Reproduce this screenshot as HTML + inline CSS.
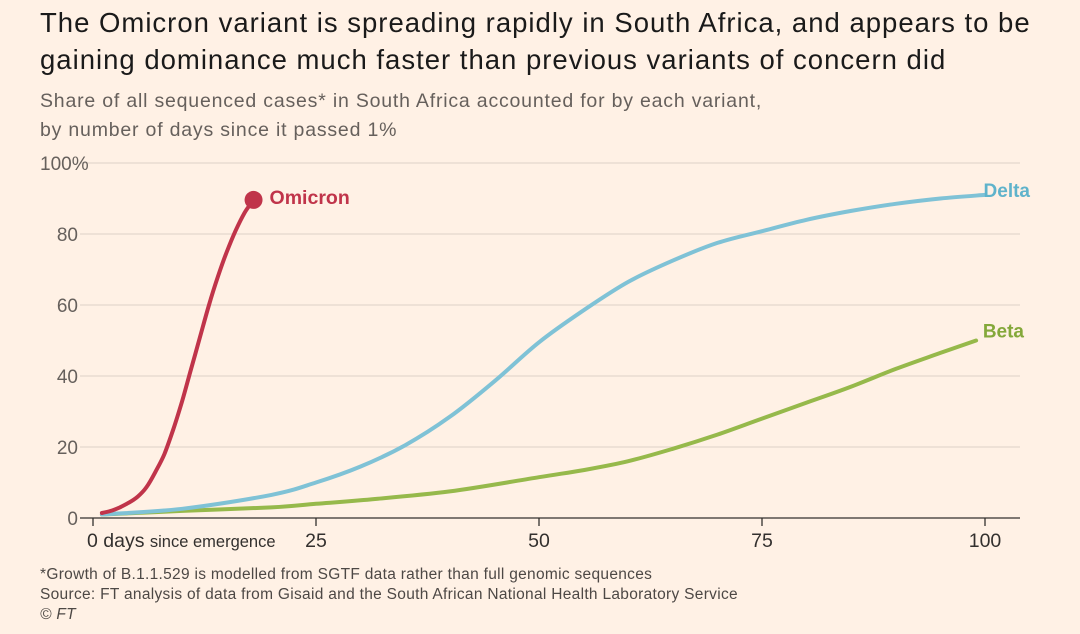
<!DOCTYPE html>
<html><head><meta charset="utf-8"><style>
body{margin:0;background:#fff1e5;font-family:"Liberation Sans",sans-serif;}
#wrap{position:relative;width:1080px;height:634px;overflow:hidden;}
h1{position:absolute;left:40px;top:4px;margin:0;font-weight:normal;font-size:27.5px;line-height:37px;color:#1a1a1a;letter-spacing:1.0px;white-space:nowrap;}
.sub{position:absolute;left:40px;top:87px;font-size:19.5px;line-height:29px;color:#66605c;letter-spacing:0.8px;white-space:nowrap;}
.foot{position:absolute;left:40px;top:565px;font-size:15.5px;line-height:20px;color:#4d4845;letter-spacing:0.3px;white-space:nowrap;}
svg{position:absolute;left:0;top:0;}
</style></head><body>
<div id="wrap">
<h1>The Omicron variant is spreading rapidly in South Africa, and appears to be<br>gaining dominance much faster than previous variants of concern did</h1>
<div class="sub">Share of all sequenced cases* in South Africa accounted for by each variant,<br>by number of days since it passed 1%</div>
<svg id="chart" width="1080" height="634"></svg>
<div class="foot">*Growth of B.1.1.529 is modelled from SGTF data rather than full genomic sequences<br>Source: FT analysis of data from Gisaid and the South African National Health Laboratory Service<br><i>© FT</i></div>
</div>
<script>
const yTicks=[0,20,40,60,80,100];
const xTicks=[0,25,50,75,100];
const omicronDays=[1,2,3,4,5,6,7,8,9,10,11,12,13,14,15,16,17,18];
const omicronVals=[1.4,2,3,4.3,6,8.7,13,18,25,33,42,51,60,68,75,81,86,89.6];
const deltaDays=[1,10,20,25,30,35,40,45,50,55,60,65,70,75,80,85,90,95,100];
const deltaVals=[1,2.6,6.5,10,14.5,20.5,28.5,38.5,49.5,58.5,66.5,72.5,77.5,80.8,84,86.5,88.5,90,91];
const betaDays=[1,10,20,25,30,40,50,55,60,65,70,75,80,85,90,95,99];
const betaVals=[1,2,3,4,5,7.5,11.5,13.5,16,19.5,23.5,28,32.5,37,42,46.5,50];
const NS="http://www.w3.org/2000/svg";
const svg=document.getElementById('chart');
const X=d=>93+d*8.92, Y=v=>518-v*3.55;
function el(t,a,txt){const e=document.createElementNS(NS,t);for(const k in a)e.setAttribute(k,a[k]);if(txt!==undefined)e.textContent=txt;svg.appendChild(e);return e;}
yTicks.forEach(t=>{
 const g=el('line',{x1:80,x2:1020,y1:Y(t),y2:Y(t),stroke:t===0?'#33302e':'#e3d8ce','stroke-width':t===0?1.3:1.2});
 
 
 const l=el('text',{x:t===100?40:78,y:Y(t)+7,'font-size':19,fill:'#66605c','text-anchor':t===100?'start':'end'},t===100?'100%':t);
 
 
});
xTicks.forEach(t=>{
 const k=el('line',{x1:X(t),x2:X(t),y1:518,y2:526,stroke:'#33302e','stroke-width':1.3});
 
 
 let l;
 if(t===0){l=el('text',{x:X(t)-6,y:547,'font-size':19.5,fill:'#33302e'});l.innerHTML='0 days <tspan font-size="16.5">since emergence</tspan>';}
 else l=el('text',{x:X(t),y:547,'font-size':19.5,fill:'#33302e','text-anchor':'middle'},t);
 
 
});
function line(days,vals,color,name){
 const P=days.map((x,i)=>[X(x),Y(vals[i])]);
 let d='M'+P[0][0].toFixed(1)+','+P[0][1].toFixed(1);
 for(let i=0;i<P.length-1;i++){
  const p0=P[Math.max(i-1,0)],p1=P[i],p2=P[i+1],p3=P[Math.min(i+2,P.length-1)];
  const c1=[p1[0]+(p2[0]-p0[0])/6,p1[1]+(p2[1]-p0[1])/6];
  const c2=[p2[0]-(p3[0]-p1[0])/6,p2[1]-(p3[1]-p1[1])/6];
  d+='C'+c1.map(v=>v.toFixed(1))+' '+c2.map(v=>v.toFixed(1))+' '+p2.map(v=>v.toFixed(1));
 }
 const p=el('path',{d:d,fill:'none',stroke:color,'stroke-width':4,'stroke-linejoin':'round','stroke-linecap':'round'});
 
 
}
line(betaDays,betaVals,'#96b94b','beta');
line(deltaDays,deltaVals,'#7fc2d6','delta');
line(omicronDays,omicronVals,'#c0344a','omicron');
const n=omicronDays.length-1;
const dot=el('circle',{cx:X(omicronDays[n]),cy:Y(omicronVals[n]),r:9,fill:'#c0344a'});


const lo=el('text',{x:X(omicronDays[n])+16,y:Y(omicronVals[n])+4,'font-size':19.5,'font-weight':'bold',fill:'#c0344a'},'Omicron');


const ld=el('text',{x:1030,y:Y(deltaVals[deltaVals.length-1])+2,'font-size':19,'font-weight':'bold',fill:'#5fb3cb','text-anchor':'end'},'Delta');


const lb=el('text',{x:1024,y:Y(betaVals[betaVals.length-1])-3,'font-size':19,'font-weight':'bold',fill:'#84a83a','text-anchor':'end'},'Beta');


</script>
</body></html>
